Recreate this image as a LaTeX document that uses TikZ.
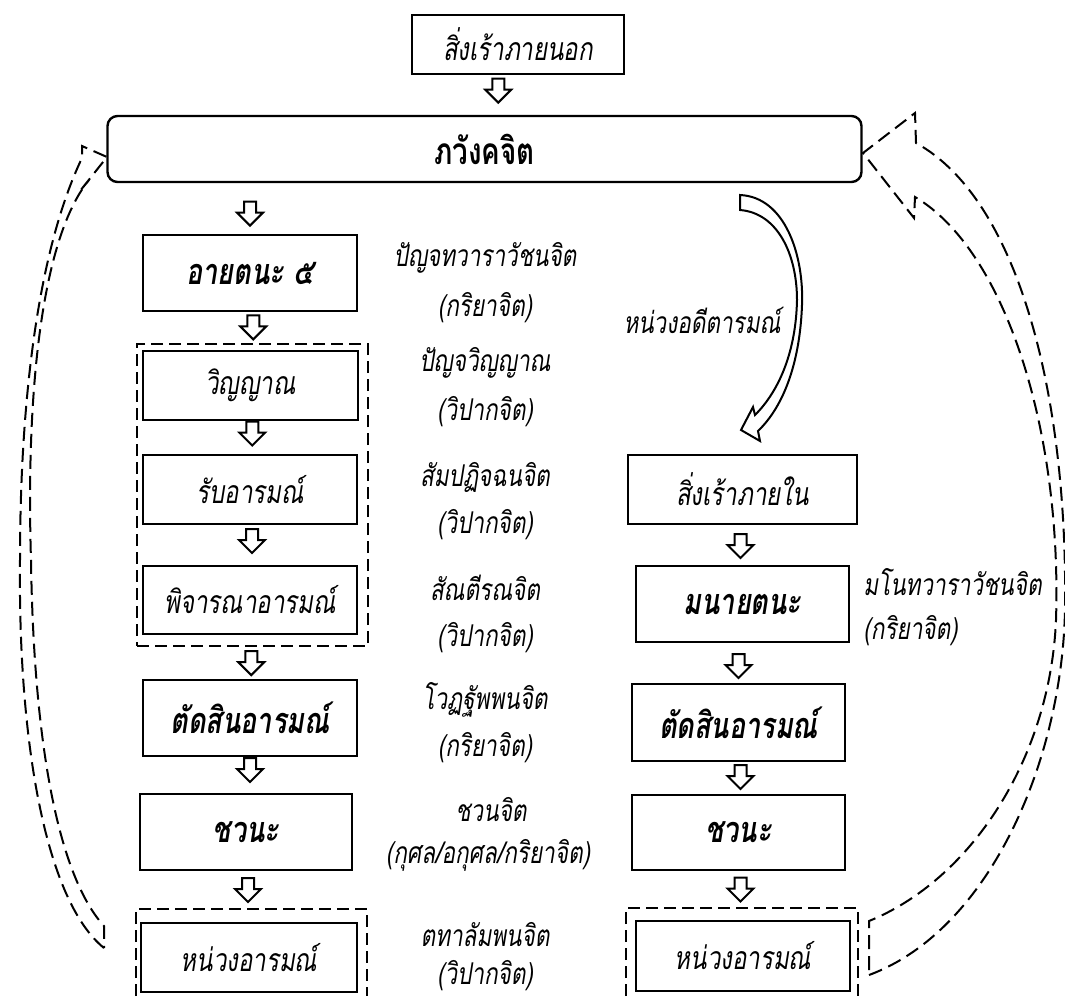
\documentclass[tikz,border=0pt]{standalone}
\usepackage{fontspec}
\newfontfamily\thaifont[Script=Thai, FakeStretch=0.75]{Loma}
\usetikzlibrary{calc}

\tikzset{
    box/.style={draw, line width=1pt, inner sep=0pt, font=\thaifont\itshape\fontsize{16}{18}\selectfont},
    keybox/.style={box, font=\thaifont\bfseries\itshape\fontsize{18}{20}\selectfont},
    grpbox/.style={draw, line width=1.2pt, dash pattern=on 6pt off 3pt, inner sep=0pt},
    note/.style={inner sep=0pt, font=\thaifont\itshape\fontsize{15}{17}\selectfont},
    loopline/.style={line width=1pt, dash pattern=on 7pt off 3.5pt},
    dnarrow/.pic={\draw[line width=1pt, fill=white] (-6,-12) -- (6,-12) -- (6,-1) -- (13,-1) -- (0,12) -- (-13,-1) -- (-6,-1) -- cycle;}
}

\begin{document}
\begin{tikzpicture}[x=0.5pt, y=-0.5pt]
            \useasboundingbox (0,0) rectangle (1065,996);
            \node[box, minimum width=106pt, minimum height=29.5pt] (ext) at (518,44) {สิ่งเร้าภายนอก};
            \node[draw, line width=1.2pt, rounded corners=5pt, minimum width=377pt, minimum height=33pt,
                font=\thaifont\bfseries\fontsize{18.5}{20}\selectfont] (bhav) at (484.5,149) {ภวังคจิต};

            \node[keybox, minimum width=107pt, minimum height=38pt] (ayat) at (250,273) {อายตนะ ๕};
            \node[grpbox, minimum width=115.5pt, minimum height=151pt] (grp) at (252.5,495) {};
            \node[box, minimum width=107.5pt, minimum height=34.5pt] (vinn) at (250.5,385.5) {วิญญาณ};
            \node[box, minimum width=107pt, minimum height=34.5pt] (rap) at (250,489.5) {รับอารมณ์};
            \node[box, minimum width=107pt, minimum height=34pt] (phi) at (250,600) {พิจารณาอารมณ์};
            \node[keybox, minimum width=107pt, minimum height=38pt] (tatsin) at (250,718) {ตัดสินอารมณ์};
            \node[keybox, minimum width=106pt, minimum height=38pt] (chav) at (246,832) {ชวนะ};
            \node[box, minimum width=108pt, minimum height=34.5pt] (nuang) at (249,957.5) {หน่วงอารมณ์};
            \coordinate (grpL) at (136,909);
            \draw[grpbox] (grpL |- 0,996) |- (367,909) -- (367,996);

            \node[box, minimum width=114.5pt, minimum height=34.5pt] (inner) at (742.5,489.5) {สิ่งเร้าภายใน};
            \node[keybox, minimum width=106.5pt, minimum height=38pt] (mano) at (742.5,604) {มนายตนะ};
            \node[keybox, minimum width=106.5pt, minimum height=38.5pt] (tatsinR) at (738.5,722.5) {ตัดสินอารมณ์};
            \node[keybox, minimum width=106.5pt, minimum height=37.5pt] (chavR) at (738.5,832.5) {ชวนะ};
            \node[box, minimum width=107pt, minimum height=35pt] (nuangR) at (743,956) {หน่วงอารมณ์};
            \coordinate (grpR) at (626,908);
            \draw[grpbox] (grpR |- 0,996) |- (858,908) -- (858,996);

            \pic at ($(ext.south)!0.5!(bhav.north) - (3,4)$) {dnarrow};
            \pic at ($(bhav.south -| ayat)!0.5!(ayat.north) + (0,5)$) {dnarrow};
            \pic at ($(ayat.south)!0.5!(grp.north) + (2,0)$) {dnarrow};
            \pic at ($(vinn.south)!0.5!(rap.north) + (2,-4)$) {dnarrow};
            \pic at ($(rap.south)!0.5!(phi.north) + (2,-4)$) {dnarrow};
            \pic at ($(grp.south)!0.5!(tatsin.north)$) {dnarrow};
            \pic at ($(tatsin.south)!0.5!(chav.north) + (2,-5)$) {dnarrow};
            \pic at ($(chav.south)!0.5!(grpL -| chav) + (2,0)$) {dnarrow};
            \pic at ($(inner.south)!0.5!(mano.north) + (-2,1)$) {dnarrow};
            \pic at ($(mano.south)!0.5!(tatsinR.north) + (-2,3)$) {dnarrow};
            \pic at ($(tatsinR.south)!0.5!(chavR.north) + (2,-1)$) {dnarrow};
            \pic at ($(chavR.south)!0.5!(grpR -| chavR) + (2,0)$) {dnarrow};

            \node[note] (pa) at (485,258) {ปัญจทวาราวัชนจิต};
            \node[note] (pb) at (485,308) {(กริยาจิต)};
            \node[note] (qa) at (485,363) {ปัญจวิญญาณ};
            \node[note] (qb) at (485,412) {(วิปากจิต)};
            \node[note] (ra) at (485,477) {สัมปฏิจฉนจิต};
            \node[note] (rb) at (485,525) {(วิปากจิต)};
            \node[note] (sa) at (485,588) {สัณตีรณจิต};
            \node[note] (sb) at (485,638) {(วิปากจิต)};
            \node[note] (ta) at (485,700) {โวฏฐัพพนจิต};
            \node[note] (tb) at (485,748) {(กริยาจิต)};
            \node[note] (ua) at (491,810) {ชวนจิต};
            \node[note] (ub) at (488,855) {(กุศล/อกุศล/กริยาจิต)};
            \node[note] (va) at (485,935) {ตทาลัมพนจิต};
            \node[note] (vb) at (485,976) {(วิปากจิต)};
            \node[note, anchor=west] (wa) at (863,582) {มโนทวาราวัชนจิต};
            \node[note, anchor=west] (wb) at (863,631) {(กริยาจิต)};
            \node[note] (past) at (702,320) {หน่วงอดีตารมณ์};

            \draw[line width=1pt, fill=white, line join=miter]
                (740,195) .. controls (785,197) and (804,255) .. (802,305)
                .. controls (800,360) and (785,405) .. (758,431) -- (760,441) -- (741,430) -- (753,407) -- (755,415)
                .. controls (780,390) and (796,350) .. (797,300)
                .. controls (797,255) and (778,213) .. (740,210) -- cycle;

            \draw[loopline]
                (104,948) .. controls (45,900) and (18,740) .. (20,560)
                .. controls (20,400) and (38,250) .. (82,158) -- (82,146) -- (107,157) -- (80,191) -- (89,180)
                .. controls (40,240) and (26,400) .. (31,560)
                .. controls (34,760) and (62,880) .. (104,926) -- cycle;

            \draw[loopline]
                (869,975) .. controls (990,930) and (1062,760) .. (1065,610)
                .. controls (1068,400) and (1020,200) .. (916,143) -- (915,113) -- (863,153) -- (914,218) -- (915,197)
                .. controls (1005,250) and (1062,430) .. (1056,620)
                .. controls (1050,760) and (970,880) .. (869,921) -- cycle;
\end{tikzpicture}
\end{document}
